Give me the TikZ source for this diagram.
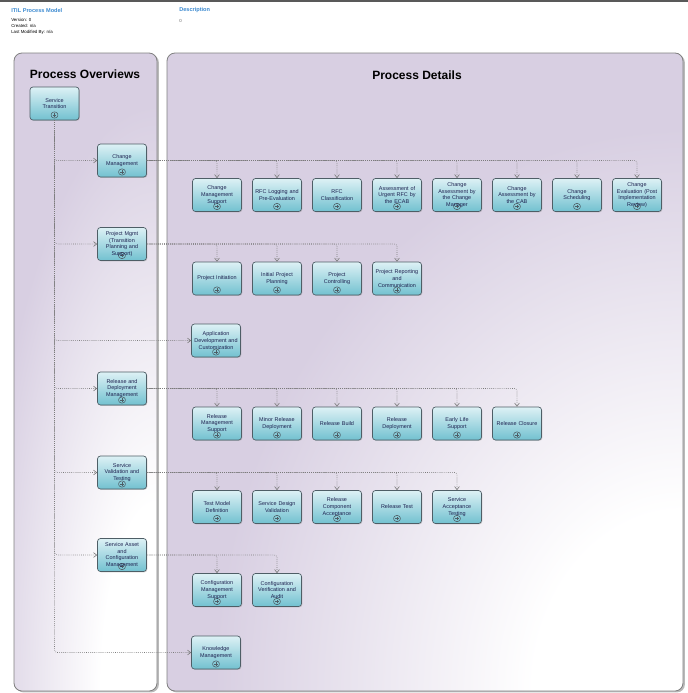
\documentclass[tikz,border=0pt]{standalone}
\usepackage{fontspec}
\setmainfont{Liberation Sans}
\usetikzlibrary{arrows.meta,shadows}

\definecolor{lav}{HTML}{D8CFE2}
\definecolor{panelline}{HTML}{808080}
\definecolor{boxtop}{HTML}{DDF1F5}
\definecolor{boxbot}{HTML}{72C1D0}
\definecolor{boxline}{HTML}{4E5E66}
\definecolor{linkgray}{HTML}{7A7A7A}
\definecolor{headblue}{HTML}{3C8AD0}
\definecolor{boxtext}{HTML}{1E2250}

% soft white glow in the lower right corner of each lane
% (the inner 25bp radius of the shading is fitted to the ellipse)
\pgfdeclareradialshading{panelglow}{\pgfpointorigin}{color(0bp)=(white); color(7bp)=(white); color(22bp)=(lav); color(25bp)=(lav); color(50bp)=(lav)}

\begin{document}
\begin{tikzpicture}[x=0.75pt,y=-0.75pt,
  panel/.style={fill=lav, drop shadow={shadow xshift=1.4pt, shadow yshift=-1.1pt, opacity=0.55}},
  panelborder/.style={draw=panelline, line width=0.6pt},
  lanetitle/.style={font=\bfseries\fontsize{9}{11}\selectfont, text=black},
  proc/.style={draw=boxline, line width=0.5pt, rounded corners=2.2pt,
    top color=boxtop, bottom color=boxbot,
    minimum width=36.75pt, minimum height=24.75pt, inner sep=0pt,
    text width=34pt, align=center, text=boxtext,
    font=\fontsize{4.1}{5}\selectfont,
    drop shadow={shadow xshift=0.6pt, shadow yshift=-0.6pt, opacity=0.35},
    path picture={
      \draw[boxline, line width=0.4pt]
        ([xshift=-2.6pt,yshift=1.5pt]path picture bounding box.south) rectangle
        ([xshift=2.6pt,yshift=6pt]path picture bounding box.south);
      \draw[boxline, line width=0.35pt]
        ([xshift=-1.3pt,yshift=3.75pt]path picture bounding box.south) --
        ([xshift=1.3pt,yshift=3.75pt]path picture bounding box.south)
        ([yshift=2.45pt]path picture bounding box.south) --
        ([yshift=5.05pt]path picture bounding box.south);}},
  link/.style={draw=linkgray, line width=0.45pt, densely dotted, rounded corners=2pt,
    -{Straight Barb[length=2.4pt,width=3.6pt,line width=0.45pt]}},
  headtitle/.style={anchor=west, text=headblue, font=\bfseries\fontsize{4.2}{5}\selectfont, inner sep=0pt},
  headtext/.style={anchor=north west, align=left, inner sep=0pt, font=\fontsize{3.3}{4.5}\selectfont}
]
\useasboundingbox (0,0) rectangle (688,693);

% ---- header ----
\draw[line width=1.5pt, black!65] (0,1) -- (688,1);
\node[headtitle] (hmodel) at (11,10) {ITIL Process Model};
\node[headtext] (hmeta) at (11,18) {Version: 0\\Created: n/a\\Last Modified By: n/a};
\node[headtitle] (hdesc) at (179,10) {Description};
\node[headtext, text=black!60] (hdescv) at (179,19) {0};

% ---- lanes ----
\path[panel, rounded corners=6pt] (14,53) rectangle (157,691);
\path[panel, rounded corners=6pt] (167,53) rectangle (683,691);
\begin{scope}
  \clip[rounded corners=6pt] (14,53) rectangle (157,691);
  \shade[shading=panelglow] (157,691) ellipse [x radius=150pt, y radius=500pt];
\end{scope}
\begin{scope}
  \clip[rounded corners=6pt] (167,53) rectangle (683,691);
  \shade[shading=panelglow] (683,691) ellipse [x radius=400pt, y radius=480pt];
\end{scope}
\draw[panelborder, rounded corners=6pt] (14,53) rectangle (157,691);
\draw[panelborder, rounded corners=6pt] (167,53) rectangle (683,691);

\node[lanetitle] (ltitle) at (85,74) {Process Overviews};
\node[lanetitle] (rtitle) at (417,75) {Process Details};

% ---- overview processes ----
\node[proc] (st)   at (54.5,103.5) {Service\\Transition};
\node[proc] (cm)   at (122,160.5) {Change\\Management};
\node[proc] (pm)   at (122,244)   {Project Mgmt\\(Transition\\Planning and\\Support)};
\node[proc] (ad)   at (216,340.5) {Application\\Development and\\Customization};
\node[proc] (rdm)  at (122,388.5) {Release and\\Deployment\\Management};
\node[proc] (svt)  at (122,472.5) {Service\\Validation and\\Testing};
\node[proc] (sacm) at (122,555)   {Service Asset\\and\\Configuration\\Management};
\node[proc] (km)   at (216,652.5) {Knowledge\\Management};

% ---- change management details ----
\node[proc] (c1) at (217,195) {Change\\Management\\Support};
\node[proc] (c2) at (277,195) {RFC Logging and\\Pre-Evaluation};
\node[proc] (c3) at (337,195) {RFC\\Classification};
\node[proc] (c4) at (397,195) {Assessment of\\Urgent RFC by\\the ECAB};
\node[proc] (c5) at (457,195) {Change\\Assessment by\\the Change\\Manager};
\node[proc] (c6) at (517,195) {Change\\Assessment by\\the CAB};
\node[proc] (c7) at (577,195) {Change\\Scheduling};
\node[proc] (c8) at (637,195) {Change\\Evaluation (Post\\Implementation\\Review)};

% ---- project management details ----
\node[proc] (p1) at (217,278.5) {Project Initiation};
\node[proc] (p2) at (277,278.5) {Initial Project\\Planning};
\node[proc] (p3) at (337,278.5) {Project\\Controlling};
\node[proc] (p4) at (397,278.5) {Project Reporting\\and\\Communication};

% ---- release and deployment details ----
\node[proc] (r1) at (217,423.5) {Release\\Management\\Support};
\node[proc] (r2) at (277,423.5) {Minor Release\\Deployment};
\node[proc] (r3) at (337,423.5) {Release Build};
\node[proc] (r4) at (397,423.5) {Release\\Deployment};
\node[proc] (r5) at (457,423.5) {Early Life\\Support};
\node[proc] (r6) at (517,423.5) {Release Closure};

% ---- validation and testing details ----
\node[proc] (v1) at (217,507) {Test Model\\Definition};
\node[proc] (v2) at (277,507) {Service Design\\Validation};
\node[proc] (v3) at (337,507) {Release\\Component\\Acceptance};
\node[proc] (v4) at (397,507) {Release Test};
\node[proc] (v5) at (457,507) {Service\\Acceptance\\Testing};

% ---- configuration management details ----
\node[proc] (g1) at (217,590) {Configuration\\Management\\Support};
\node[proc] (g2) at (277,590) {Configuration\\Verification and\\Audit};

% ---- connectors ----
\foreach \t in {cm,pm,ad,rdm,svt,sacm,km} \draw[link] (st) |- (\t);
\foreach \t in {c1,c2,c3,c4,c5,c6,c7,c8} \draw[link] (cm) -| (\t);
\foreach \t in {p1,p2,p3,p4} \draw[link] (pm) -| (\t);
\foreach \t in {r1,r2,r3,r4,r5,r6} \draw[link] (rdm) -| (\t);
\foreach \t in {v1,v2,v3,v4,v5} \draw[link] (svt) -| (\t);
\foreach \t in {g1,g2} \draw[link] (sacm) -| (\t);
\end{tikzpicture}
\end{document}
